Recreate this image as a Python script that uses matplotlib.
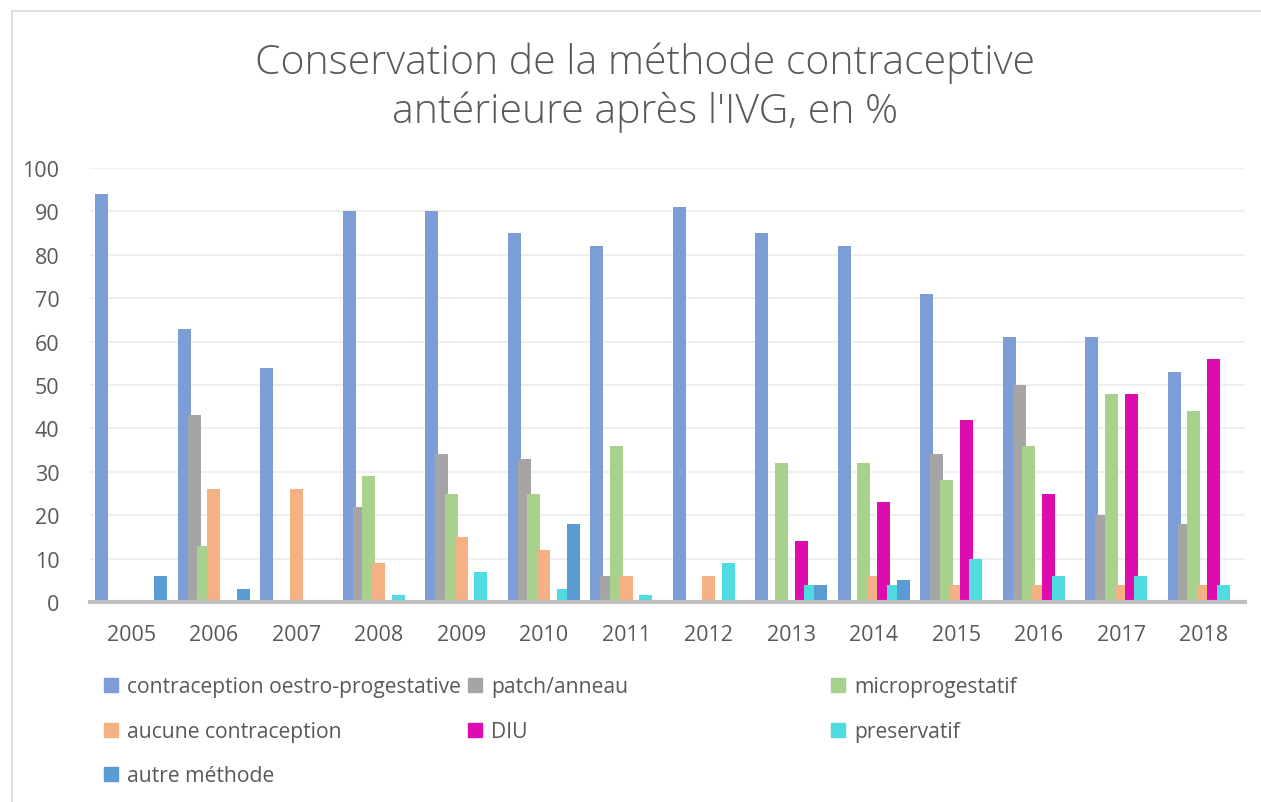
import matplotlib
matplotlib.use("Agg")
import matplotlib.pyplot as plt
import numpy as np
from matplotlib.lines import Line2D
from matplotlib.patches import Patch

years = ["2005", "2006", "2007", "2008", "2009", "2010", "2011",
         "2012", "2013", "2014", "2015", "2016", "2017", "2018"]

series_names = ["contraception oestro-progestative", "patch/anneau", "microprogestatif",
                "aucune contraception", "DIU", "preservatif", "autre méthode"]

oestro = [94, 63, 54, 90, 90, 85, 82, 91, 85, 82, 71, 61, 61, 53]
patch = [0, 43, 0, 22, 34, 33, 6, 0, 0, 0, 34, 50, 20, 18]
micro = [0, 13, 0, 29, 25, 25, 36, 0, 32, 32, 28, 36, 48, 44]
aucune = [0, 26, 26, 9, 15, 12, 6, 6, 0, 6, 4, 4, 4, 4]
diu = [0, 0, 0, 0, 0, 0, 0, 0, 14, 23, 42, 25, 48, 56]
preservatif = [0, 0, 0, 1.5, 7, 3, 1.5, 9, 4, 4, 10, 6, 6, 4]
autre = [6, 3, 0, 0, 0, 18, 0, 0, 4, 5, 0, 0, 0, 0]

values = [oestro, patch, micro, aucune, diu, preservatif, autre]
colors = ["#7C9DD6", "#A5A5A5", "#A9D18E", "#F4B183", "#DE0BAF", "#4FDBE0", "#5B9BD5"]

plt.rcParams['font.family'] = ['Open Sans', 'DejaVu Sans']

fig = plt.figure(figsize=(12.61, 8.03), dpi=100)
ax = fig.add_axes([90/1261, 1-603/803, (1245-90)/1261, (603-169)/803])

x = np.arange(len(years))
width = 0.158
step = 0.119
n = len(values)
offsets = [(i - (n-1)/2) * step for i in range(n)]

handles = []
for i, (vals, col) in enumerate(zip(values, colors)):
    bc = ax.bar(x + offsets[i], vals, width=width, color=col, zorder=2+i, linewidth=0)
    handles.append(bc)

ax.set_xlim(-0.5, len(years) - 0.5)
ax.set_ylim(0, 100)
ax.set_yticks(range(0, 101, 10))
ax.set_xticks(x)
ax.set_xticklabels(years)
ax.grid(axis='y', color='#EFEFEF', linewidth=1.5, zorder=0)
ax.set_axisbelow(True)
for s in ['top', 'right', 'left']:
    ax.spines[s].set_visible(False)
ax.spines['bottom'].set_color('#BFBFBF')
ax.spines['bottom'].set_linewidth(3)
ax.spines['bottom'].set_zorder(20)
ax.tick_params(axis='both', length=0, labelsize=15.5, colors='#595959')
ax.tick_params(axis='y', pad=22)
ax.tick_params(axis='x', pad=16)

fig.text(645/1261, 1-88/803, "Conservation de la méthode contraceptive\nantérieure après l'IVG, en %",
         ha='center', va='center', fontsize=29.5, color='#595959', fontweight='light',
         linespacing=1.25)

# legend entries placed in a 3-column grid
col_x = [104/1261, 468/1261, 831/1261]
row_y = [1-688/803, 1-733/803, 1-777/803]
for i, (h, name) in enumerate(zip(handles, series_names)):
    r, c = divmod(i, 3)
    fig.legend(handles=[Patch(color=colors[i])], labels=[name], loc='center left',
               bbox_to_anchor=(col_x[c], row_y[r]), frameon=False, fontsize=15.2,
               handlelength=0.65, handleheight=0.65, handletextpad=0.45,
               labelcolor='#595959', borderpad=0, borderaxespad=0)

# outer chart border
fig.add_artist(Line2D([12/1261, 12/1261], [0, 1-12/803], color='#D9D9D9', linewidth=1.2))
fig.add_artist(Line2D([12/1261, 1], [1-12/803, 1-12/803], color='#D9D9D9', linewidth=1.2))

fig.savefig("out.png", dpi=100)
